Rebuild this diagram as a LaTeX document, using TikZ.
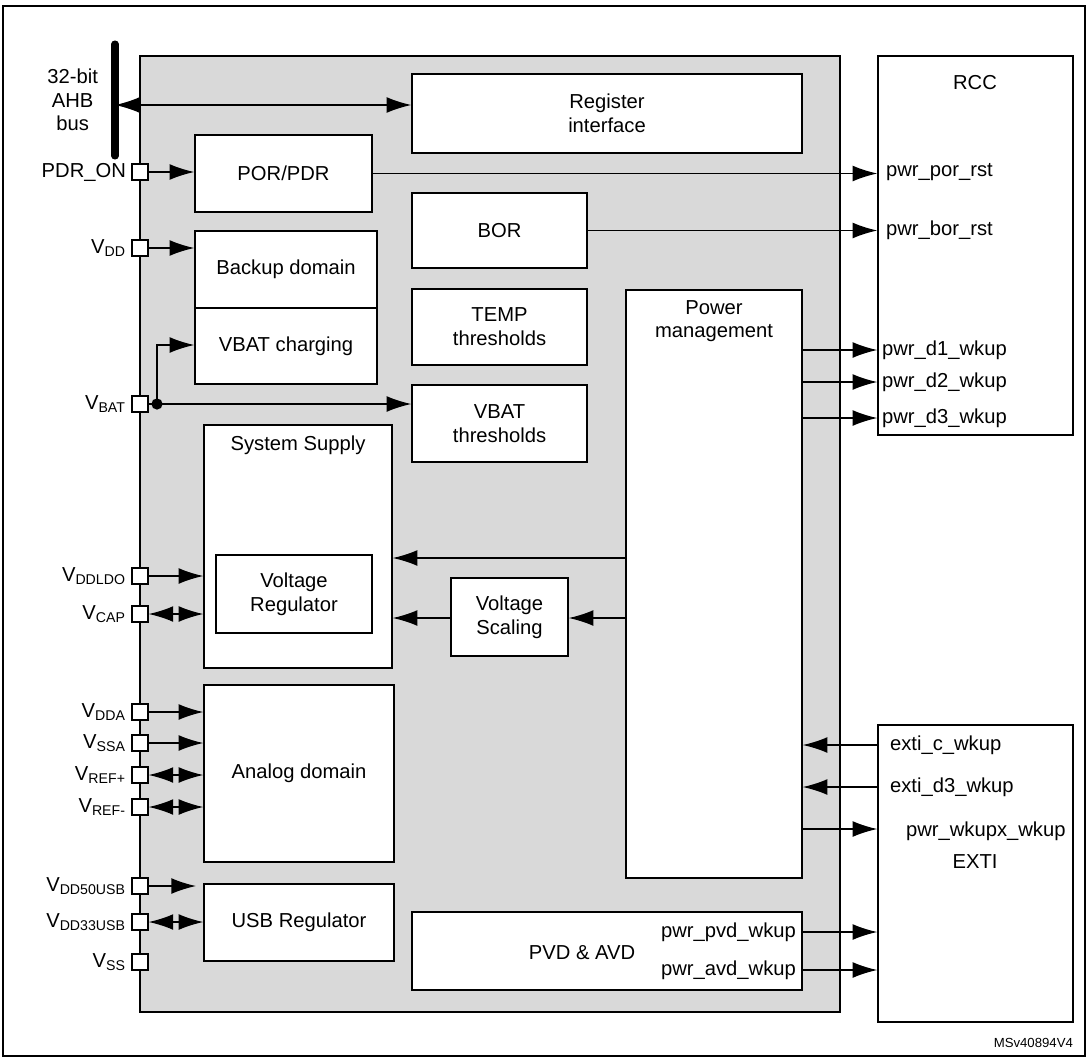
\documentclass[tikz,border=0pt]{standalone}
\usepackage{fontspec}
\setmainfont{Liberation Sans}
\usetikzlibrary{arrows.meta}
\begin{document}
\begin{tikzpicture}[x=0.02cm,y=-0.02cm,
 box/.style={draw,fill=white,line width=0.8pt,align=center,font=\fontsize{11.5}{13.5}\selectfont},
 lab/.style={font=\fontsize{11.5}{13.5}\selectfont,inner sep=1pt},
 pin/.style={draw,fill=white,line width=0.8pt,minimum size=9pt,inner sep=0pt},
 ar/.style={-{Latex[length=14pt,width=9pt]},line width=0.8pt},
 dar/.style={{Latex[length=14pt,width=9pt]}-{Latex[length=14pt,width=9pt]},line width=0.8pt}]
\useasboundingbox (0,0) rectangle (1087,1058);
\draw[line width=1.2pt] (3,6) -- (1085,6) -- (1085,1056) -- (3,1056) -- cycle;
\fill[gray!30] (140,56) rectangle (840,1012);
\draw[line width=0.8pt] (140,56) rectangle (840,1012);
% blocks
\node[box,minimum width=390*0.02cm,minimum height=79*0.02cm] (reg) at (607,113.5) {Register\\interface};
\node[box,minimum width=177*0.02cm,minimum height=77*0.02cm] (por) at (283.5,173.5) {POR/PDR};
\node[box,minimum width=175*0.02cm,minimum height=75*0.02cm] (bor) at (499.5,230.5) {BOR};
\node[box,minimum width=182*0.02cm,minimum height=77*0.02cm] (bkp) at (286,269.5) {Backup domain};
\node[box,minimum width=182*0.02cm,minimum height=76*0.02cm] (vbc) at (286,346) {VBAT charging};
\node[box,minimum width=175*0.02cm,minimum height=76*0.02cm] (temp) at (499.5,327) {TEMP\\thresholds};
\node[box,minimum width=175*0.02cm,minimum height=77*0.02cm] (vbt) at (499.5,423.5) {VBAT\\thresholds};
\node[box,minimum width=176*0.02cm,minimum height=588*0.02cm] (pm) at (714,584) {};
\node[lab,align=center,anchor=north] at (714,298) {Power\\management};
\node[box,minimum width=188*0.02cm,minimum height=243*0.02cm] (ss) at (298,546.5) {};
\node[lab,anchor=north] at (298,434) {System Supply};
\node[box,minimum width=156*0.02cm,minimum height=78*0.02cm] (vr) at (294,594) {Voltage\\Regulator};
\node[box,minimum width=117*0.02cm,minimum height=78*0.02cm] (vs) at (509.5,617) {Voltage\\Scaling};
\node[box,minimum width=190*0.02cm,minimum height=177*0.02cm] (ana) at (299,773.5) {Analog domain};
\node[box,minimum width=190*0.02cm,minimum height=77*0.02cm] (usb) at (299,922.5) {USB Regulator};
\node[box,minimum width=390*0.02cm,minimum height=78*0.02cm] (pvd) at (607,951) {};
\node[lab] at (582,953) {PVD \& AVD};
\node[lab,anchor=east] (pvdw) at (798,932) {pwr\_pvd\_wkup};
\node[lab,anchor=east] (avdw) at (798,970) {pwr\_avd\_wkup};
\node[box,minimum width=195*0.02cm,minimum height=379*0.02cm] (rcc) at (975.5,245.5) {};
\node[lab] at (975,83) {RCC};
\node[box,minimum width=195*0.02cm,minimum height=297*0.02cm] (exti) at (975.5,873.5) {};
\node[lab] at (975,862) {EXTI};
% bus
\draw[line width=4pt,line cap=round] (115,44) -- (115,156);
\coordinate (busR) at (115,105);
\draw[dar] (busR) -- (reg.west |- busR);
\node[lab,align=center,anchor=east] at (100,100) {32-bit\\AHB\\bus};
% pins
\foreach \n/\y/\t in {pdr/172/PDR\_ON, vdd/248/V\textsubscript{DD}, vbat/404/V\textsubscript{BAT},
 ldo/576/V\textsubscript{DDLDO}, cap/614/V\textsubscript{CAP}, dda/712/V\textsubscript{DDA},
 ssa/743/V\textsubscript{SSA}, rp/775/V\textsubscript{REF+}, rm/807/V\textsubscript{REF-},
 u50/886/V\textsubscript{DD50USB}, u33/922/V\textsubscript{DD33USB}, vss/962/V\textsubscript{SS}}{
 \node[pin] (\n) at (140,\y) {};
 \node[lab,anchor=east] at (128,\y) {\t};
}
\draw[ar] (pdr.east) -- (por.west |- pdr);
\draw[ar] (vdd.east) -- (bkp.west |- vdd);
\coordinate (dot) at (157,404);
\coordinate (vbc1) at (157,345);
\draw[line width=0.8pt] (vbat.east) -- (dot);
\draw[ar] (dot) -- (vbc1) -- (vbc.west |- vbc1);
\draw[ar] (dot) -- (vbt.west |- dot);
\fill (dot) circle (3.2pt);
\draw[ar] (ldo.east) -- (ss.west |- ldo);
\draw[dar] (cap.east) -- (ss.west |- cap);
\draw[ar] (dda.east) -- (ana.west |- dda);
\draw[ar] (ssa.east) -- (ana.west |- ssa);
\draw[dar] (rp.east) -- (ana.west |- rp);
\draw[dar] (rm.east) -- (ana.west |- rm);
\coordinate (u50e) at (196,886);
\draw[ar] (u50.east) -- (u50e);
\draw[dar] (u33.east) -- (usb.west |- u33);
% to RCC
\draw[ar] (por.east) -- (rcc.west |- por);
\node[lab,anchor=west] at (884,172) {pwr\_por\_rst};
\draw[ar] (bor.east) -- (rcc.west |- bor);
\node[lab,anchor=west] at (884,230) {pwr\_bor\_rst};
\foreach \y/\t in {350/pwr\_d1\_wkup,382/pwr\_d2\_wkup,418/pwr\_d3\_wkup}{
 \coordinate (pm\y) at (802,\y);
 \draw[ar] (pm\y) -- (rcc.west |- pm\y);
 \node[lab,anchor=west] at (880,\y) {\t};
}
% PM internal
\coordinate (pmA) at (626,558);
\coordinate (pmB) at (626,618);
\draw[ar] (pmA) -- (ss.east |- pmA);
\draw[ar] (pmB) -- (vs.east |- pmB);
\draw[ar] (vs.west |- pmB) -- (ss.east |- pmB);
% EXTI
\foreach \y/\t in {745/exti\_c\_wkup,787/exti\_d3\_wkup}{
 \coordinate (ex\y) at (878,\y);
 \draw[ar] (ex\y) -- (pm.east |- ex\y);
 \node[lab,anchor=west] at (888,\y) {\t};
}
\coordinate (pm829) at (802,829);
\draw[ar] (pm829) -- (exti.west |- pm829);
\node[lab,anchor=west] at (904,831) {pwr\_wkupx\_wkup};
\draw[ar] (pvdw.east -| pvd.east) -- (exti.west |- pvdw);
\draw[ar] (avdw.east -| pvd.east) -- (exti.west |- avdw);
\node[lab,anchor=east,font=\fontsize{7.5}{8}\selectfont] at (1075,1043) {MSv40894V4};
\end{tikzpicture}
\end{document}
